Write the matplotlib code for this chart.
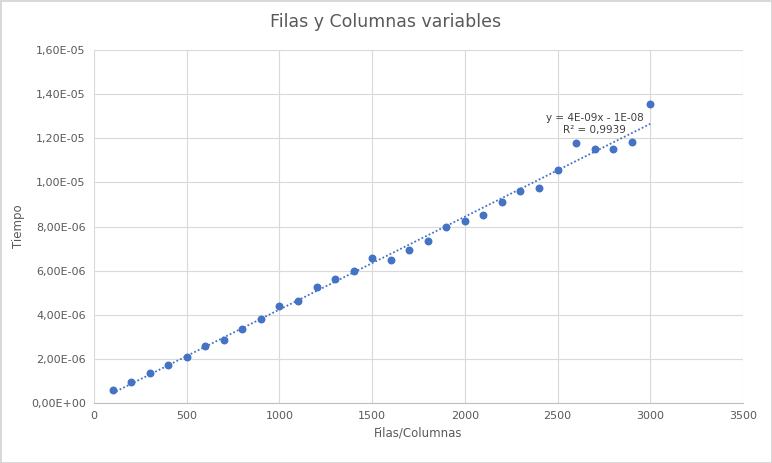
import matplotlib
matplotlib.use("Agg")
import matplotlib.pyplot as plt
import numpy as np
from matplotlib.ticker import FuncFormatter

x = [100,200,300,400,500,600,700,800,900,1000,1100,1200,1300,1400,1500,
     1600,1700,1800,1900,2000,2100,2200,2300,2400,2500,2600,2700,2800,2900,3000]
y_e6 = [0.59,0.95,1.36,1.72,2.09,2.58,2.86,3.35,3.81,4.40,4.62,5.26,5.62,5.98,6.57,
        6.48,6.94,7.34,7.98,8.25,8.52,9.11,9.61,9.75,10.56,11.79,11.51,11.51,11.83,13.55]
y = np.array(y_e6) * 1e-6
x = np.array(x)

fig = plt.figure(figsize=(7.72, 4.63), dpi=100)
fig.patch.set_edgecolor("#d9d9d9"); fig.patch.set_linewidth(1)
ax = fig.add_axes([94/772, 1-403/463, 649/772, 353/463])
col = "#4472c4"
ax.scatter(x, y, s=22, color=col, zorder=3)
c = np.polyfit(x, y, 1)
xs = np.array([x.min(), x.max()])
ax.plot(xs, np.polyval(c, xs), ls=(0, (1, 1.2)), color=col, lw=1.3, zorder=2)
ax.set_xlim(0, 3500); ax.set_ylim(0, 1.6e-5)
ax.set_xticks(range(0, 3501, 500))
ax.set_yticks(np.arange(0, 1.61e-5, 2e-6))
def fmt(v, p):
    s = f"{v:.2E}".replace(".", ",").replace("E-0", "E-").replace("E+0", "E+")
    s = s.replace("E-", "E-0").replace("E+", "E+0")
    return s
ax.yaxis.set_major_formatter(FuncFormatter(fmt))
ax.grid(True, color="#d9d9d9", lw=0.8)
ax.set_axisbelow(True)
for s in ["top", "right", "left"]:
    ax.spines[s].set_visible(False)
ax.spines["bottom"].set_color("#bfbfbf")
ax.tick_params(length=0, labelsize=8, colors="#595959", pad=6)
ax.set_xlabel("Filas/Columnas", fontsize=8.5, color="#595959")
ax.set_ylabel("Tiempo", fontsize=8.5, color="#595959")
fig.text(0.5, 1-22/463, "Filas y Columnas variables", ha="center", va="center",
         fontsize=12.5, color="#595959")
ax.text(2700, 1.265e-5, "y = 4E-09x - 1E-08\nR² = 0,9939", fontsize=7.5,
        color="#404040", ha="center", va="center", linespacing=1.3)
fig.savefig("out.png", dpi=100, edgecolor=fig.get_edgecolor())
